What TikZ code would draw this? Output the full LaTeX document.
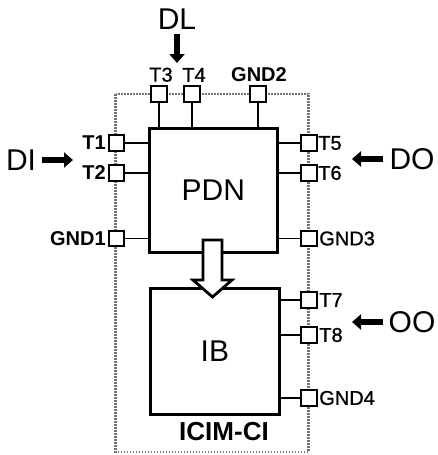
\documentclass[tikz,border=0pt]{standalone}
\usepackage{fontspec}
\setmainfont{Liberation Sans}
\newfontfamily\medfont[FakeBold=1]{Liberation Sans}
\usetikzlibrary{arrows.meta}
\begin{document}
\begin{tikzpicture}[x=1pt,y=-1pt,
  blk/.style={draw,line width=2.8pt,inner sep=0pt,anchor=north west},
  pin/.style={draw,fill=white,line width=1.7pt,minimum size=15.5pt,inner sep=0pt},
  wire/.style={line width=1.6pt},
  lab/.style={inner sep=0pt,font=\fontsize{20}{20}\medfont},
  blab/.style={inner sep=0pt,font=\fontsize{20}{20}\selectfont\bfseries},
  big/.style={inner sep=0pt,font=\fontsize{30}{30}\selectfont},
  fat/.style={line width=6pt,-{Triangle[length=9pt,width=15pt]}},
  frame/.style={draw=black!55,line width=2.2pt,dash pattern=on 1.6pt off 1.4pt}]
\useasboundingbox (0,0) rectangle (437,455);
% dotted frame
\draw[frame] (115.5,94) rectangle (308.5,452);
% blocks
\node[blk,minimum width=128pt,minimum height=124pt] (pdn) at (148,127) {};
\node[big] at (pdn.center) {PDN};
\node[blk,minimum width=129pt,minimum height=126pt] (ib) at (149,287) {};
\node[big] at (ib.center) {IB};
% pins
\node[pin] (t3) at (159,94) {};
\node[pin] (t4) at (192,94) {};
\node[pin] (g2) at (258,94) {};
\node[pin] (t1) at (116.5,143) {};
\node[pin] (t2) at (116.5,173) {};
\node[pin] (g1) at (116.5,238.5) {};
\node[pin] (t5) at (309,143) {};
\node[pin] (t6) at (309,173) {};
\node[pin] (g3) at (309,238.5) {};
\node[pin] (t7) at (309,300) {};
\node[pin] (t8) at (309,335) {};
\node[pin] (g4) at (309,398) {};
% wires
\draw[wire] (t3) -- (t3 |- pdn.north);
\draw[wire] (t4) -- (t4 |- pdn.north);
\draw[wire] (g2) -- (g2 |- pdn.north);
\draw[wire] (t1) -- (t1 -| pdn.west);
\draw[wire] (t2) -- (t2 -| pdn.west);
\draw[wire] (g1) -- (g1 -| pdn.west);
\draw[wire] (t5) -- (t5 -| pdn.east);
\draw[wire] (t6) -- (t6 -| pdn.east);
\draw[wire] (g3) -- (g3 -| pdn.east);
\draw[wire] (t7) -- (t7 -| ib.east);
\draw[wire] (t8) -- (t8 -| ib.east);
\draw[wire] (g4) -- (g4 -| ib.east);
% pin labels
\node[lab,anchor=south] at (161,82) {T3};
\node[lab,anchor=south] at (194,82) {T4};
\node[blab,anchor=south] at (259,82) {GND2};
\node[blab,anchor=east] at ([xshift=-2pt]t1.west) {T1};
\node[blab,anchor=east] at ([xshift=-2pt]t2.west) {T2};
\node[blab,anchor=east] at ([xshift=-2pt]g1.west) {GND1};
\node[lab,anchor=west] at ([xshift=0.5pt]t5.east) {T5};
\node[lab,anchor=west] at ([xshift=0.5pt]t6.east) {T6};
\node[lab,anchor=west] at ([xshift=1.5pt]g3.east) {GND3};
\node[lab,anchor=west] at ([xshift=1.5pt]t7.east) {T7};
\node[lab,anchor=west] at ([xshift=1.5pt]t8.east) {T8};
\node[lab,anchor=west] at ([xshift=1.5pt]g4.east) {GND4};
% signal labels and arrows
\node[big] (dl) at (177,19) {DL};
\coordinate (dla) at (177,34);
\coordinate (dlb) at (177,63);
\draw[fat] (dla) -- (dlb);
\node[big] (di) at (21,160) {DI};
\coordinate (dia) at (42,160);
\coordinate (dib) at (73,160);
\draw[fat] (dia) -- (dib);
\node[big] (do) at (412,159) {DO};
\coordinate (doa) at (383,159);
\coordinate (dob) at (352,159);
\draw[fat] (doa) -- (dob);
\node[big] (oo) at (412,322) {OO};
\coordinate (ooa) at (383,322);
\coordinate (oob) at (352,322);
\draw[fat] (ooa) -- (oob);
% hollow arrow
\draw[line width=2.8pt,fill=white,line join=miter]
  (203,240) -- (222,240) -- (222,280) -- (232,280) -- (212.5,297)
  -- (193,280) -- (203,280) -- cycle;
% title
\node[inner sep=0pt,font=\fontsize{26}{26}\selectfont\bfseries] at (224,432) {ICIM-CI};
\end{tikzpicture}
\end{document}
